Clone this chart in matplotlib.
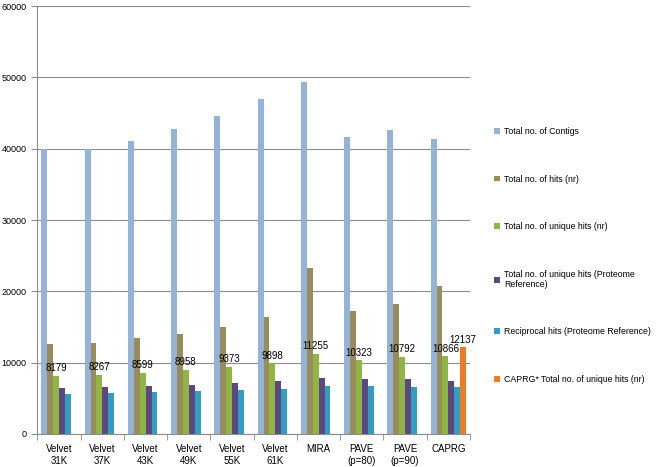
import numpy as np
import matplotlib
matplotlib.use("Agg")
import matplotlib.pyplot as plt

plt.rcParams['font.family'] = ['Liberation Sans', 'DejaVu Sans']

# data
categories = ['Velvet\n31K', 'Velvet\n37K', 'Velvet\n43K', 'Velvet\n49K', 'Velvet\n55K',
              'Velvet\n61K', 'MIRA', 'PAVE\n(p=80)', 'PAVE\n(p=90)', 'CAPRG']
contigs = [39950, 39950, 41100, 42700, 44600, 46950, 49350, 41600, 42600, 41400]
hits_nr = [12550, 12800, 13400, 14050, 15050, 16400, 23250, 17300, 18200, 20700]
unique_nr = [8179, 8267, 8599, 8958, 9373, 9898, 11255, 10323, 10792, 10866]
unique_prot = [6400, 6550, 6730, 6870, 7150, 7400, 7850, 7670, 7670, 7430]
reciprocal = [5650, 5750, 5890, 6030, 6210, 6310, 6730, 6690, 6640, 6640]
caprg_star = [np.nan] * 9 + [12137]

series_names = ['Total no. of Contigs', 'Total no. of hits (nr)', 'Total no. of unique hits (nr)',
                'Total no. of unique hits (Proteome\nReference)', 'Reciprocal hits (Proteome Reference)',
                'CAPRG* Total no. of unique hits (nr)']
series = [contigs, hits_nr, unique_nr, unique_prot, reciprocal, caprg_star]
colors = ['#95B3D7', '#988C5C', '#8FB543', '#5E4680', '#319DC0', '#EB7D27']

fig = plt.figure(figsize=(6.61, 4.67), dpi=100)
ax = fig.add_axes([0.0567, 0.0707, 0.6543, 0.9163])

x = np.arange(len(categories))
w = 0.137
conts = []
for i, (vals, name, c) in enumerate(zip(series, series_names, colors)):
    pos = x - 0.5 + 0.09 + (i + 0.5) * w
    conts.append(ax.bar(pos, vals, width=w, color=c, label=name, zorder=2))

ax.bar_label(conts[2], labels=[str(v) for v in unique_nr], padding=2, fontsize=7)
ax.bar_label(conts[5], labels=['' if np.isnan(v) else str(int(v)) for v in caprg_star],
             padding=2, fontsize=7)

ax.set_xlim(-0.5, len(categories) - 0.5)
ax.set_ylim(0, 60000)
ax.set_yticks(np.arange(0, 60001, 10000))
ax.yaxis.grid(True, color='#8C8C8C', linewidth=0.8, zorder=0)
ax.set_axisbelow(True)

ax.set_xticks(x)
ax.set_xticklabels(categories, fontsize=7, linespacing=1.3)
ax.set_xticks(np.arange(-0.5, len(categories)), minor=True)
ax.tick_params(axis='x', which='major', length=0, pad=7)
ax.tick_params(axis='x', which='minor', length=4, color='#8C8C8C')
ax.tick_params(axis='y', length=4, color='#8C8C8C', labelsize=6.5, pad=4)

for s in ['top', 'right']:
    ax.spines[s].set_visible(False)
for s in ['left', 'bottom']:
    ax.spines[s].set_color('#8C8C8C')
    ax.spines[s].set_linewidth(0.8)

ax.legend(loc='upper left', bbox_to_anchor=(0.748, 0.728), bbox_transform=fig.transFigure,
          frameon=False, fontsize=6.3, handlelength=0.65, handleheight=0.65, handletextpad=0.45,
          labelspacing=4.4, borderpad=0, borderaxespad=0)

fig.savefig('out.png', dpi=100)
